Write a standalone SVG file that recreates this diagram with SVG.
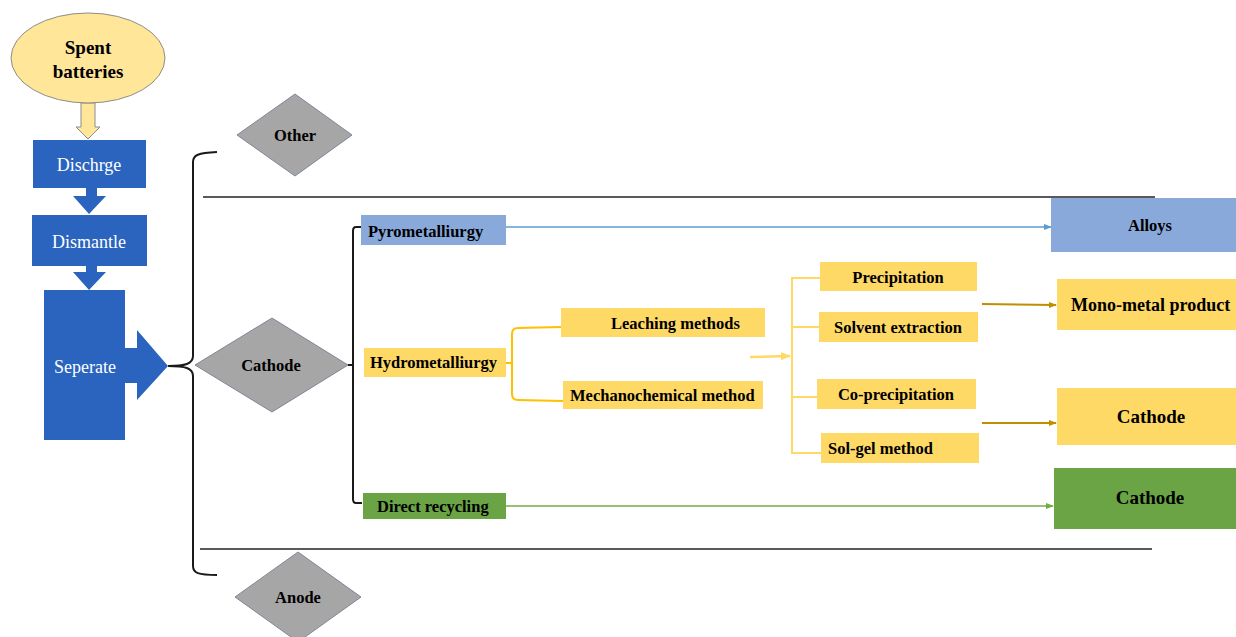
<svg xmlns="http://www.w3.org/2000/svg" width="1236" height="637" viewBox="0 0 1236 637" font-family="'Liberation Serif', 'DejaVu Serif', serif">
<defs>
<style>
text{font-family:'Liberation Serif','DejaVu Serif',serif;}
.lbl{font-weight:bold;fill:#000;}
.wl{fill:#fff;font-size:18px;}
.blue{fill:#2A64BE;}
.dia{fill:#A6A6A6;stroke:#7D8799;stroke-width:1;}
.yel{fill:#FFD966;}
.lb{fill:#8AA9DB;}
.gr{fill:#6AA444;}
.blk{fill:none;stroke:#1a1a1a;stroke-width:2;}
</style>
<marker id="ab" markerWidth="8" markerHeight="8" refX="7" refY="4" orient="auto" markerUnits="userSpaceOnUse"><path d="M0,1 L8,4 L0,7 Z" fill="#5B9BD5"/></marker>
<marker id="abr" markerWidth="8" markerHeight="8" refX="7" refY="4" orient="auto" markerUnits="userSpaceOnUse"><path d="M0,1 L8,4 L0,7 Z" fill="#BF8F00"/></marker>
<marker id="ag" markerWidth="8" markerHeight="8" refX="7" refY="4" orient="auto" markerUnits="userSpaceOnUse"><path d="M0,1 L8,4 L0,7 Z" fill="#70AD47"/></marker>
<marker id="ay" markerWidth="10" markerHeight="10" refX="9" refY="5" orient="auto" markerUnits="userSpaceOnUse"><path d="M0,1 L10,5 L0,9 Z" fill="#FFD966"/></marker>
</defs>
<rect width="1236" height="637" fill="#fff"/>

<g id="connectors">
<path d="M81,103 L95,103 L95,127 L100,127 L88,139 L76,127 L81,127 Z" fill="#FFE699" stroke="#8c8c8c" stroke-width="1"/>
<path d="M86,188 L97,188 L97,196 L106,196 L89,214 L73,196 L86,196 Z" class="blue"/>
<path d="M86,266 L97,266 L97,272 L106,272 L89,290 L73,272 L86,272 Z" class="blue"/>
<path d="M125,348 L137,348 L137,330 L168,366 L137,400 L137,383 L125,383 Z" class="blue"/>
<path d="M168,366 C185,366 193,364 193,356 L193,162 C193,155 198,153 217,152" class="blk" stroke-width="1.8"/>
<path d="M168,366 C185,366 193,368 193,376 L193,566 C193,573 198,575 217,575" class="blk" stroke-width="1.8"/>
<line x1="203" y1="197" x2="1155" y2="197" stroke="#222" stroke-width="1.6"/>
<line x1="200" y1="549" x2="1152" y2="549" stroke="#222" stroke-width="1.6"/>
<path d="M361,227 L356,227 Q353,227 353,231 L353,499 Q353,503 356,503 L362,503" class="blk"/>
<line x1="348" y1="365" x2="353" y2="365" stroke="#1a1a1a" stroke-width="2"/>
<line x1="494" y1="227" x2="1051" y2="227" stroke="#5B9BD5" stroke-width="1.6" marker-end="url(#ab)"/>
<line x1="506" y1="506" x2="1053" y2="506" stroke="#70AD47" stroke-width="1.6" marker-end="url(#ag)"/>
<path d="M561,327 L518,328 Q512,328 512,334 L512,394 Q512,400 518,400 L563,401" fill="none" stroke="#FFC000" stroke-width="2"/>
<line x1="505" y1="363" x2="512" y2="363" stroke="#FFC000" stroke-width="2"/>
<line x1="750" y1="357" x2="790" y2="356" stroke="#FFD966" stroke-width="2.5" marker-end="url(#ay)"/>
<path d="M820,278 L792,278 L792,453 L821,453" fill="none" stroke="#FFD966" stroke-width="2"/>
<line x1="792" y1="327" x2="819" y2="327" stroke="#FFD966" stroke-width="2"/>
<line x1="792" y1="397" x2="817" y2="397" stroke="#FFD966" stroke-width="2"/>
<line x1="982" y1="304" x2="1056" y2="305" stroke="#BF8F00" stroke-width="2" marker-end="url(#abr)"/>
<line x1="982" y1="423" x2="1056" y2="423" stroke="#BF8F00" stroke-width="2" marker-end="url(#abr)"/>
</g>

<g id="spent"><ellipse cx="88" cy="58" rx="77" ry="45" fill="#FFE699" stroke="#8c8c8c" stroke-width="1"/>
<text class="lbl" font-size="19" text-anchor="middle" x="88" y="54">Spent</text>
<text class="lbl" font-size="19" text-anchor="middle" x="88" y="78">batteries</text></g>

<g id="dischrge"><rect x="33" y="140" width="113" height="48" class="blue"/><text class="wl" x="89" y="171" text-anchor="middle">Dischrge</text></g>
<g id="dismantle"><rect x="32" y="215" width="115" height="51" class="blue"/><text class="wl" x="89" y="248" text-anchor="middle">Dismantle</text></g>
<g id="seperate"><rect x="44" y="290" width="81" height="150" class="blue"/><text class="wl" x="85" y="373" text-anchor="middle">Seperate</text></g>

<g id="other"><path d="M237,135 L295,94 L352,135 L295,176 Z" class="dia"/><text class="lbl" font-size="16.5" x="295" y="141" text-anchor="middle">Other</text></g>
<g id="cathode-d"><path d="M195,365 L272,318 L348,365 L272,412 Z" class="dia"/><text class="lbl" font-size="16.5" x="271" y="371" text-anchor="middle">Cathode</text></g>
<g id="anode"><path d="M235,597 L298,552 L361,597 L298,642 Z" class="dia"/><text class="lbl" font-size="16.5" x="298" y="603" text-anchor="middle">Anode</text></g>

<g id="pyro"><rect x="361" y="215" width="145" height="30" class="lb"/><text class="lbl" font-size="16.5" x="368" y="237">Pyrometalliurgy</text></g>
<g id="hydro"><rect x="364" y="348" width="142" height="29" class="yel"/><text class="lbl" font-size="16.5" x="370" y="368">Hydrometalliurgy</text></g>
<g id="direct"><rect x="363" y="493" width="143" height="26" class="gr"/><text class="lbl" font-size="16.5" x="377" y="512">Direct recycling</text></g>

<g id="leaching"><rect x="561" y="308" width="204" height="29" class="yel"/><text class="lbl" font-size="16.5" x="611" y="329">Leaching methods</text></g>
<g id="mechano"><rect x="563" y="381" width="200" height="28" class="yel"/><text class="lbl" font-size="16.5" x="570" y="401">Mechanochemical method</text></g>

<g id="precip"><rect x="820" y="262" width="157" height="29" class="yel"/><text class="lbl" font-size="16.5" x="898" y="283" text-anchor="middle">Precipitation</text></g>
<g id="solvent"><rect x="819" y="312" width="159" height="30" class="yel"/><text class="lbl" font-size="16.5" x="898" y="333" text-anchor="middle">Solvent extraction</text></g>
<g id="coprecip"><rect x="817" y="379" width="159" height="30" class="yel"/><text class="lbl" font-size="16.5" x="896" y="400" text-anchor="middle">Co-precipitation</text></g>
<g id="solgel"><rect x="821" y="433" width="158" height="30" class="yel"/><text class="lbl" font-size="16.5" x="828" y="454">Sol-gel method</text></g>

<g id="alloys"><rect x="1051" y="198" width="185" height="54" class="lb"/><text class="lbl" font-size="16.5" x="1150" y="231" text-anchor="middle">Alloys</text></g>
<g id="mono"><rect x="1057" y="279" width="179" height="51" class="yel"/><text class="lbl" font-size="18" x="1071" y="311">Mono-metal product</text></g>
<g id="cathode-y"><rect x="1057" y="388" width="179" height="57" class="yel"/><text class="lbl" font-size="19" x="1151" y="423" text-anchor="middle">Cathode</text></g>
<g id="cathode-g"><rect x="1054" y="468" width="182" height="61" class="gr"/><text class="lbl" font-size="19" x="1150" y="504" text-anchor="middle">Cathode</text></g>
</svg>
